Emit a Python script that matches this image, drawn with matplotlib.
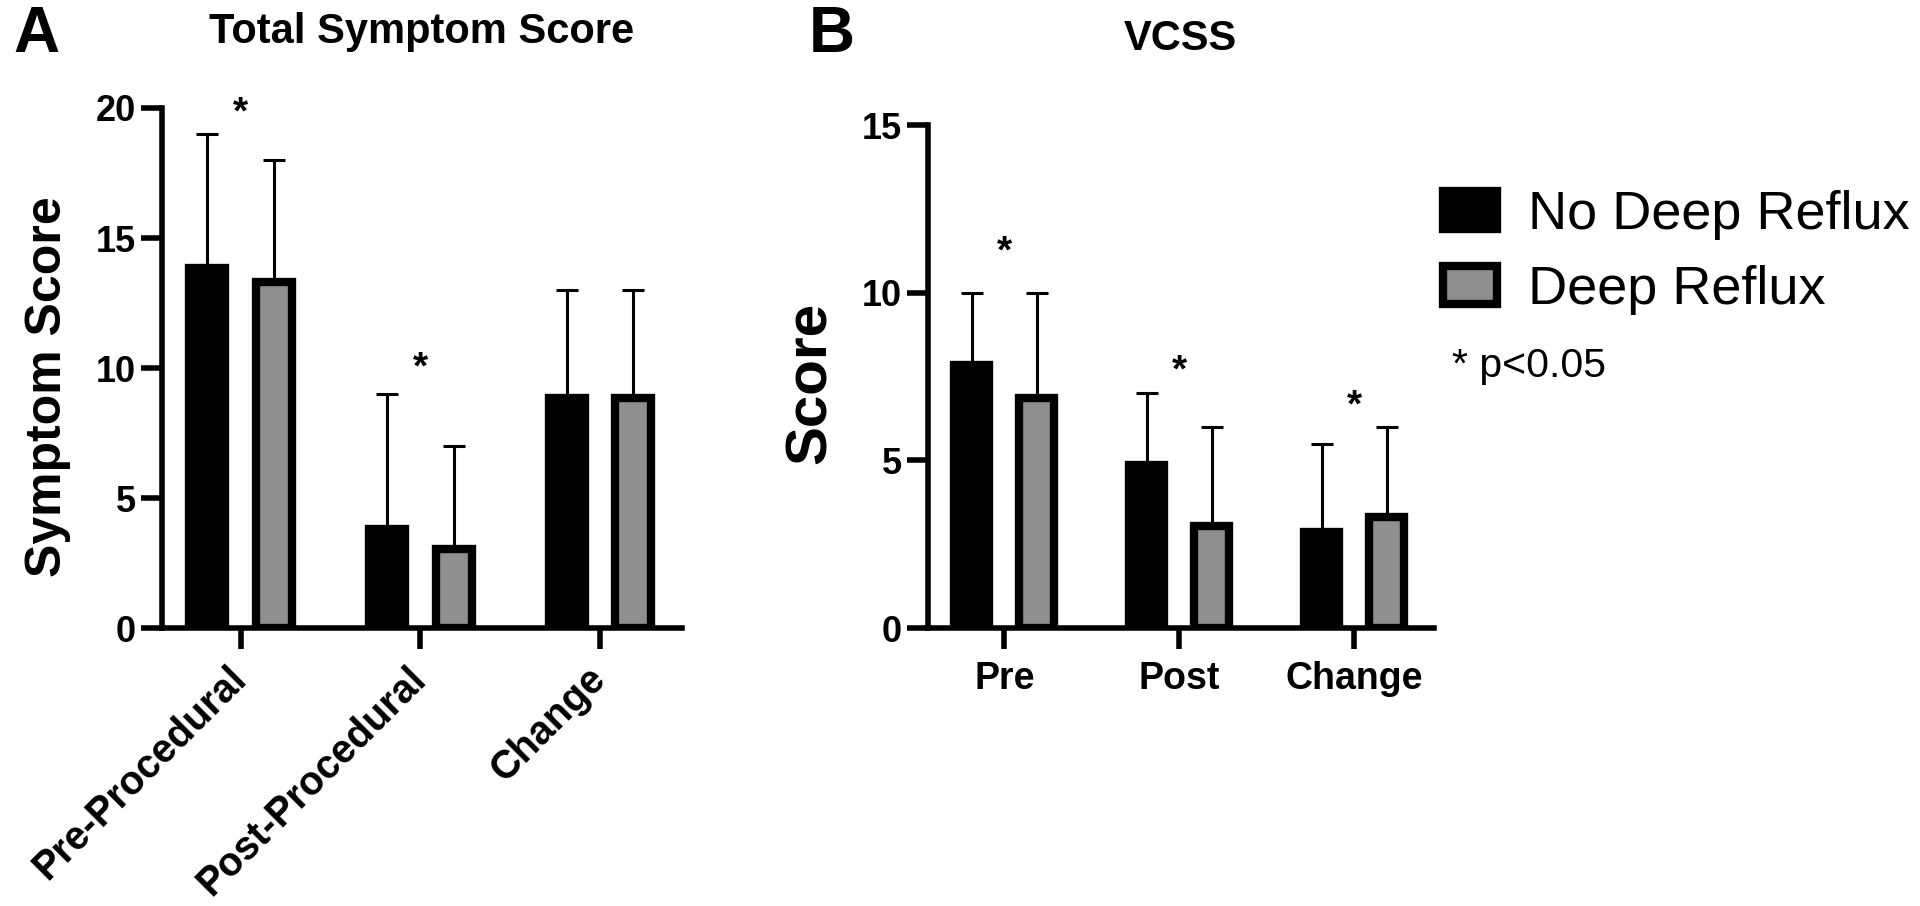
import matplotlib
matplotlib.use('Agg')
import matplotlib.pyplot as plt
import numpy as np

plt.rcParams['font.family'] = 'Liberation Sans'

# --- Data ---
groups = ['No Deep Reflux', 'Deep Reflux']

tss_labels = ['Pre-Procedural', 'Post-Procedural', 'Change']
tss_no_deep = [13.85, 3.8, 8.85]
tss_deep = [13.3, 3.05, 8.85]
tss_no_deep_upper = [19, 9, 13]
tss_deep_upper = [18, 7, 13]
tss_star_level = [19.4, 9.6, None]

vcss_labels = ['Pre', 'Post', 'Change']
vcss_no_deep = [7.85, 4.85, 2.85]
vcss_deep = [6.85, 3.05, 3.3]
vcss_no_deep_upper = [10, 7, 5.5]
vcss_deep_upper = [10, 6, 6]
vcss_star_level = [10.9, 7.35, 6.3]

GRAY = '#8f8f8f'


def _draw_panel(ax, labels, no_deep, deep, no_deep_up, deep_up, stars,
                ymax, yticks, bar_w=0.2, offset=0.186):
    """Сгруппированные столбцы с односторонними планками погрешностей"""
    x = np.arange(len(labels))
    b1 = ax.bar(x - offset, no_deep, bar_w, color='black', edgecolor='black',
                linewidth=6, zorder=3, label=groups[0])
    b2 = ax.bar(x + offset, deep, bar_w, color=GRAY, edgecolor='black',
                linewidth=6, zorder=3, label=groups[1])

    for xs, vals, ups in ((x - offset, no_deep, no_deep_up), (x + offset, deep, deep_up)):
        vals = np.array(vals)
        ax.errorbar(xs, vals, yerr=[np.zeros(len(vals)), np.array(ups) - vals],
                    fmt='none', ecolor='black', elinewidth=2.2, capsize=8,
                    capthick=2.2, zorder=2)

    for xi, s in zip(x, stars):
        if s is not None:
            ax.text(xi, s, '*', ha='center', va='baseline', fontsize=28,
                    fontweight='bold', clip_on=False)

    ax.set_xlim(-0.437, 2.456)
    ax.set_ylim(0, ymax)
    ax.set_yticks(yticks)
    ax.set_yticklabels([str(t) for t in yticks], fontweight='bold')
    ax.set_xticks(x)
    for side in ('top', 'right'):
        ax.spines[side].set_visible(False)
    for side in ('left', 'bottom'):
        ax.spines[side].set_linewidth(4)
    ax.tick_params(axis='both', direction='out', length=15, width=4,
                   labelsize=26, pad=4)
    return b1, b2


fig = plt.figure(figsize=(19.2, 9.06), dpi=100)

# Панель A
ax_a = fig.add_axes([0.0844, 0.3068, 0.2708, 0.574])
_draw_panel(ax_a, tss_labels, tss_no_deep, tss_deep, tss_no_deep_upper,
            tss_deep_upper, tss_star_level, 20, [0, 5, 10, 15, 20])
ax_a.set_xticklabels(tss_labels, rotation=45, ha='right', va='center',
                     rotation_mode='anchor', fontsize=28.5, fontweight='bold')
ax_a.tick_params(axis='x', pad=17)
ax_a.text(-0.219, 0.465, 'Symptom Score', transform=ax_a.transAxes,
          rotation=90, ha='center', va='center', fontsize=36, fontweight='bold')

# Панель B
ax_b = fig.add_axes([0.4833, 0.3068, 0.2636, 0.5552])
b1, b2 = _draw_panel(ax_b, vcss_labels, vcss_no_deep, vcss_deep,
                     vcss_no_deep_upper, vcss_deep_upper, vcss_star_level,
                     15, [0, 5, 10, 15])
ax_b.set_xticklabels(vcss_labels, fontsize=27, fontweight='bold')
ax_b.tick_params(axis='x', pad=9)
ax_b.text(-0.231, 0.487, 'Score', transform=ax_b.transAxes,
          rotation=90, ha='center', va='center', fontsize=42, fontweight='bold')

# Заголовки и буквы панелей
fig.text(0.2198, 1 - 43 / 906, 'Total Symptom Score', ha='center',
         va='baseline', fontsize=30, fontweight='bold')
fig.text(0.6146, 1 - 50 / 906, 'VCSS', ha='center', va='baseline',
         fontsize=30, fontweight='bold')
fig.text(13 / 1920, 1 - 52 / 906, 'A', ha='left', va='baseline',
         fontsize=46, fontweight='bold')
fig.text(809 / 1920, 1 - 52 / 906, 'B', ha='left', va='baseline',
         fontsize=46, fontweight='bold')

# Легенда
ax_b.legend(handles=[b1, b2], labels=groups, loc='upper left',
            bbox_to_anchor=(1443 / 1920, 1 - 190 / 906),
            bbox_transform=fig.transFigure, frameon=False, fontsize=39,
            handlelength=1.0, handleheight=0.68, handletextpad=0.57,
            labelspacing=0.46, borderpad=0, borderaxespad=0)
fig.text(1452 / 1920, 1 - 366 / 906, '* p<0.05', fontsize=29.5, va='center')

fig.savefig('out.png', dpi=100, facecolor='white')
plt.close(fig)
